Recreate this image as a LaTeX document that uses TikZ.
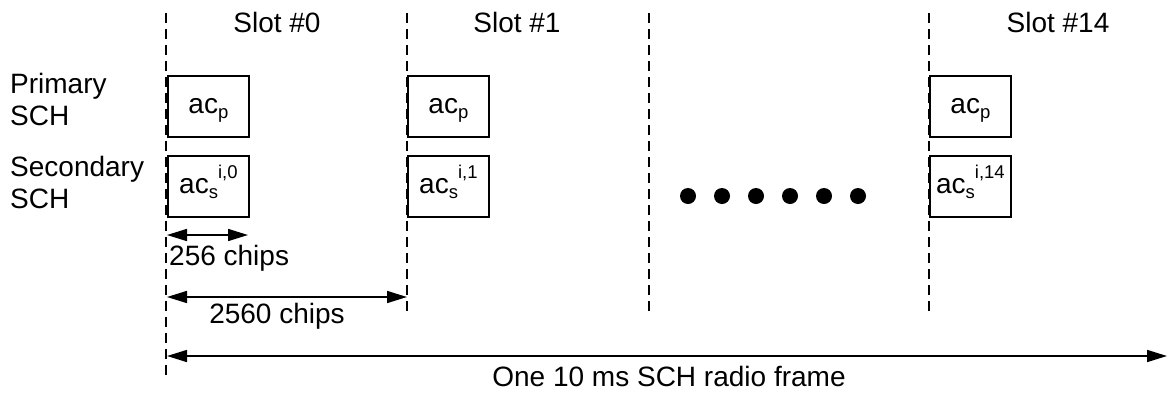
\documentclass[tikz,border=0pt]{standalone}
\usepackage{fontspec}
\setmainfont{Liberation Sans}
\usetikzlibrary{arrows.meta}
\newcommand\mysub[1]{\raisebox{-0.15em}{\fontsize{18.5}{18.5}\selectfont #1}}
\newcommand\mysup[1]{\raisebox{0.55em}{\fontsize{18.5}{18.5}\selectfont #1}}
\tikzset{
  txt/.style={font=\fontsize{28}{32}\selectfont, inner sep=0pt},
  slotbox/.style={draw, line width=1.8pt, minimum width=81pt, minimum height=61pt,
    inner sep=0pt, text height=20pt, text depth=5pt, anchor=north west,
    font=\fontsize{28}{32}\selectfont},
  slotline/.style={line width=1.8pt, dash pattern=on 10pt off 6pt},
  dimarrow/.style={line width=1.6pt, {Triangle[length=20pt,width=12pt]}-{Triangle[length=20pt,width=12pt]}},
  dot/.style={circle, fill, inner sep=0pt, minimum size=16pt}
}
\begin{document}
\begin{tikzpicture}[x=1pt,y=-1pt]
\useasboundingbox (0,0) rectangle (1167,394);
% slot boundaries
\coordinate (l0t) at (166,13); \coordinate (l0b) at (166,375);
\coordinate (l1t) at (407,13); \coordinate (l1b) at (407,316);
\coordinate (l2t) at (649,13); \coordinate (l2b) at (649,316);
\coordinate (l3t) at (929,13); \coordinate (l3b) at (929,316);
\draw[slotline] (l0t) -- (l0b);
\draw[slotline] (l1t) -- (l1b);
\draw[slotline] (l2t) -- (l2b);
\draw[slotline] (l3t) -- (l3b);
% slot labels
\node[txt, anchor=base] (s0) at (277,32) {Slot \#0};
\node[txt, anchor=base] (s1) at (517,32) {Slot \#1};
\node[txt, anchor=base] (s14) at (1058,32) {Slot \#14};
% row labels
\node[txt, anchor=north west, align=left] (prim) at (10,73) {Primary\\SCH};
\node[txt, anchor=north west, align=left] (sec) at (10,156) {Secondary\\SCH};
% boxes
\node[slotbox] (p0) at (167,75) {ac\mysub{p}};
\node[slotbox] (q0) at (167,155) {ac\mysub{s}\mysup{i,0}};
\node[slotbox] (p1) at (407,75) {ac\mysub{p}};
\node[slotbox] (q1) at (407,155) {ac\mysub{s}\mysup{i,1}};
\node[slotbox] (p14) at (929,75) {ac\mysub{p}};
\node[slotbox] (q14) at (929,155) {ac\mysub{s}\mysup{i,14}};
% dots
\foreach \i in {0,...,5} {\node[dot] (d\i) at (688+34*\i,196) {};}
% dimension arrows
\coordinate (a1) at (167,235); \coordinate (a2) at (248,235);
\draw[dimarrow] (a1) -- (a2);
\node[txt, anchor=base west] (t256) at (169,265) {256 chips};
\coordinate (b1) at (167,297); \coordinate (b2) at (407,297);
\draw[dimarrow] (b1) -- (b2);
\node[txt, anchor=base] (t2560) at (277,323) {2560 chips};
\coordinate (c1) at (167,356); \coordinate (c2) at (1167,356);
\draw[dimarrow] (c1) -- (c2);
\node[txt, anchor=base] (tframe) at (669,386) {One 10 ms SCH radio frame};
\end{tikzpicture}
\end{document}
